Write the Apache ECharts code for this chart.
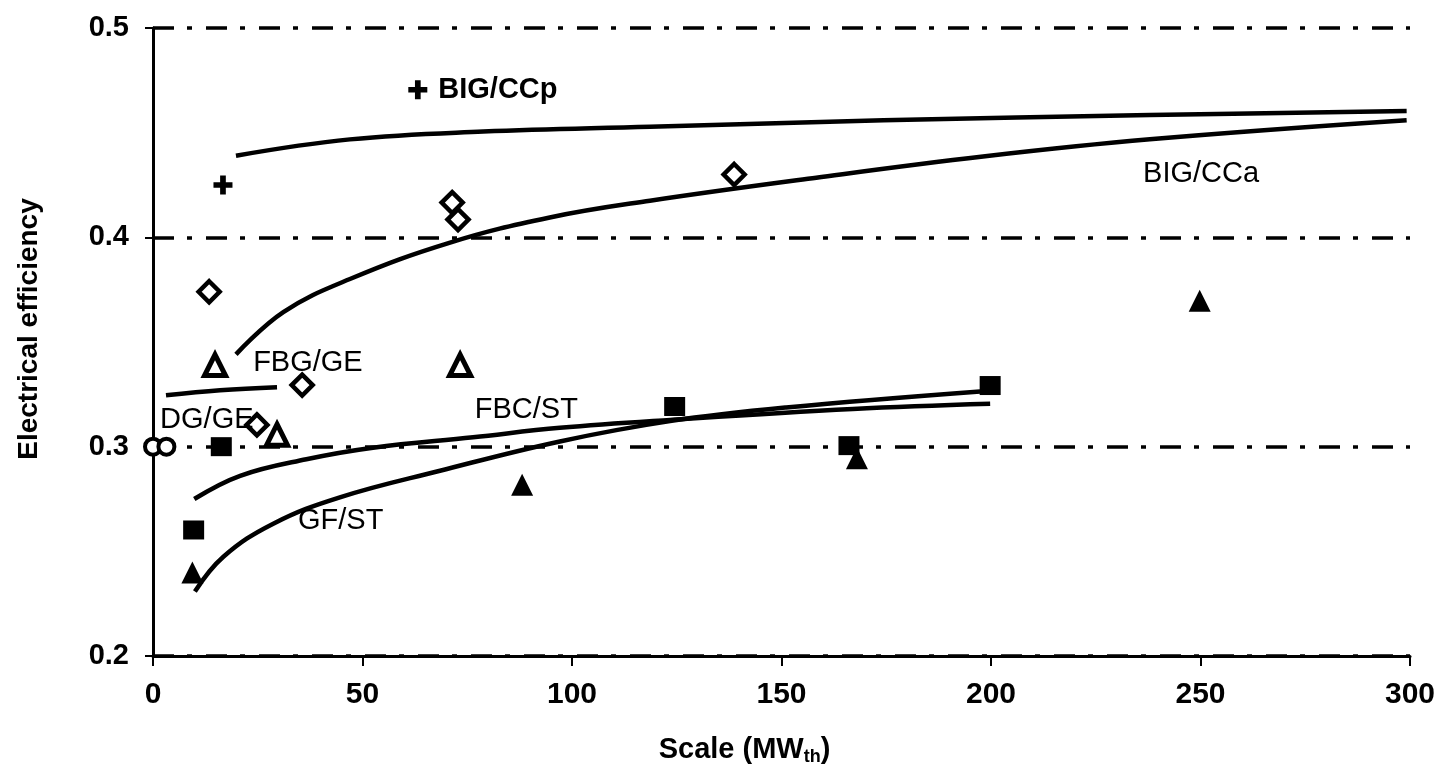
<!DOCTYPE html>
<html>
<head>
<meta charset="utf-8">
<title>Electrical efficiency vs scale</title>
<script src="https://cdn.jsdelivr.net/npm/echarts@6/dist/echarts.min.js"></script>
<style>
  html, body { margin: 0; padding: 0; background: #fff; }
  #main { width: 1441px; height: 771px; }
</style>
</head>
<body>
<div id="main"></div>
<script>
// axis ticks
const xTicks = [0, 50, 100, 150, 200, 250, 300];
const yTicks = [0.2, 0.3, 0.4, 0.5];

// measured points [scale MWth, efficiency]
const bigCCpPts = [[16.7, 0.425]];
const bigCCaPts = [[13.4, 0.374], [71.4, 0.4166], [72.8, 0.4085], [138.7, 0.43], [35.6, 0.3294], [24.8, 0.3104]];
const fbgGEPts = [[14.8, 0.339], [73.3, 0.339], [29.6, 0.3057]];
const dgGEPts = [[0, 0.3], [3.2, 0.3]];
const fbcSTPts = [[16.3, 0.3], [9.7, 0.2602], [124.5, 0.3192], [166.1, 0.3005], [199.8, 0.3292]];
const gfSTPts = [[9.4, 0.2399], [88.1, 0.2818], [168, 0.2945], [249.8, 0.3697]];

// trend curves
const bigCCpCurve = [[19.8, 0.439], [47, 0.4468], [78.8, 0.4505], [118.6, 0.4528], [174.3, 0.4559], [237.9, 0.4584], [299.2, 0.4603]];
const bigCCaCurve = [[19.8, 0.3441], [31.1, 0.3643], [47, 0.3801], [70.9, 0.3975], [94.7, 0.4095], [118.6, 0.4175], [158.3, 0.4285], [198.1, 0.4386], [237.9, 0.4468], [299.2, 0.4559]];
const fbgGECurve = [[3.1, 0.3246], [16, 0.327], [29.6, 0.3284]];
const fbcSTCurve = [[9.85, 0.275], [20.8, 0.2861], [36.6, 0.294], [52.5, 0.2995], [76.4, 0.3045], [97.1, 0.309], [123.4, 0.3128], [167, 0.318], [199.8, 0.3205]];
const gfSTCurve = [[10, 0.2308], [16.8, 0.2474], [28.7, 0.2632], [44.6, 0.2758], [68.5, 0.2885], [97.1, 0.3025], [123.4, 0.3122], [151.1, 0.3187], [197.4, 0.3264]];

// in-plot labels [x, y, text]
const keyPlus = [[63.2, 0.4705, 'BIG/CCp']];
const curveLabels = [
  [23.9, 0.3398, 'FBG/GE'],
  [1.7, 0.3127, 'DG/GE'],
  [76.8, 0.3174, 'FBC/ST'],
  [34.6, 0.2646, 'GF/ST'],
  [236.3, 0.4301, 'BIG/CCa']
];

const FONT = 'Liberation Sans, Arial, sans-serif';
const plusPath = 'path://M3.5,0 H6.5 V3.5 H10 V6.5 H6.5 V10 H3.5 V6.5 H0 V3.5 H3.5 Z';

function curve(data) {
  return {
    type: 'line', data: data, smooth: 0.4,
    symbol: 'none', z: 2,
    lineStyle: { color: '#000', width: 4.5 }
  };
}

function marks(data, symbol, size, filled, bw) {
  return {
    type: 'scatter', data: data, symbol: symbol, symbolSize: size, z: 4,
    itemStyle: filled
      ? { color: '#000', borderColor: '#000', borderWidth: 0, opacity: 1 }
      : { color: '#fff', borderColor: '#000', borderWidth: bw, opacity: 1 }
  };
}

const myChart = echarts.init(document.getElementById('main'));
myChart.setOption({
  animation: false,
  backgroundColor: '#fff',
  grid: { left: 153, right: 31, top: 28, bottom: 112 },
  xAxis: {
    type: 'value', min: 0, max: 300, interval: 50,
    name: '{a|Scale (MW}{s|th}{a|)}',
    nameLocation: 'middle', nameGap: 78,
    nameTextStyle: {
      padding: [0, 74, 0, 0],
      rich: {
        a: { fontFamily: FONT, fontSize: 29, fontWeight: 'bold', color: '#000' },
        s: { fontFamily: FONT, fontSize: 18, fontWeight: 'bold', color: '#000', padding: [14, 0, 0, 0] }
      }
    },
    axisLine: { onZero: false, lineStyle: { color: '#000', width: 3 } },
    axisTick: { show: true, length: 10, lineStyle: { color: '#000', width: 2 } },
    axisLabel: {
      margin: 24, color: '#000', fontFamily: FONT, fontSize: 30, fontWeight: 'bold',
      formatter: v => xTicks.includes(v) ? String(v) : ''
    },
    splitLine: { show: false }
  },
  yAxis: {
    type: 'value', min: 0.2, max: 0.5, interval: 0.1,
    name: 'Electrical efficiency',
    nameLocation: 'middle', nameGap: 110,
    nameTextStyle: { fontFamily: FONT, fontSize: 28, fontWeight: 'bold', color: '#000', padding: [0, 0, 0, 26] },
    axisLine: { show: true, onZero: false, lineStyle: { color: '#000', width: 3 } },
    axisTick: { show: true, length: 8, lineStyle: { color: '#000', width: 2 } },
    axisLabel: {
      margin: 24, color: '#000', fontFamily: FONT, fontSize: 29, fontWeight: 'bold',
      formatter: v => yTicks.some(t => Math.abs(t - v) < 1e-9) ? v.toFixed(1) : ''
    },
    splitLine: {
      show: true,
      lineStyle: { color: '#000', width: 3.5, type: [21, 13, 5, 14] }
    }
  },
  series: [
    curve(bigCCpCurve),
    curve(bigCCaCurve),
    curve(fbgGECurve),
    curve(fbcSTCurve),
    curve(gfSTCurve),
    marks(bigCCpPts, plusPath, 19, true, 0),
    marks(bigCCaPts, 'diamond', 21, false, 4.5),
    marks(fbgGEPts, 'triangle', 21, false, 5),
    marks(dgGEPts, 'circle', 16, false, 4),
    marks(fbcSTPts, 'rect', [21, 19], true, 0),
    marks(gfSTPts, 'triangle', 22, true, 0),
    {
      type: 'scatter', data: keyPlus, symbol: plusPath, symbolSize: 19, z: 5,
      itemStyle: { color: '#000', opacity: 1 },
      label: {
        show: true, position: 'right', distance: 11,
        formatter: p => p.value[2],
        fontFamily: FONT, fontSize: 29, fontWeight: 'bold', color: '#000', textBorderWidth: 0
      }
    },
    {
      type: 'scatter', data: curveLabels, symbolSize: 0, z: 5,
      itemStyle: { opacity: 1 },
      label: {
        show: true, position: 'right', distance: 0,
        formatter: p => p.value[2],
        fontFamily: FONT, fontSize: 29, color: '#000', textBorderWidth: 0
      }
    }
  ]
});
</script>
</body>
</html>
